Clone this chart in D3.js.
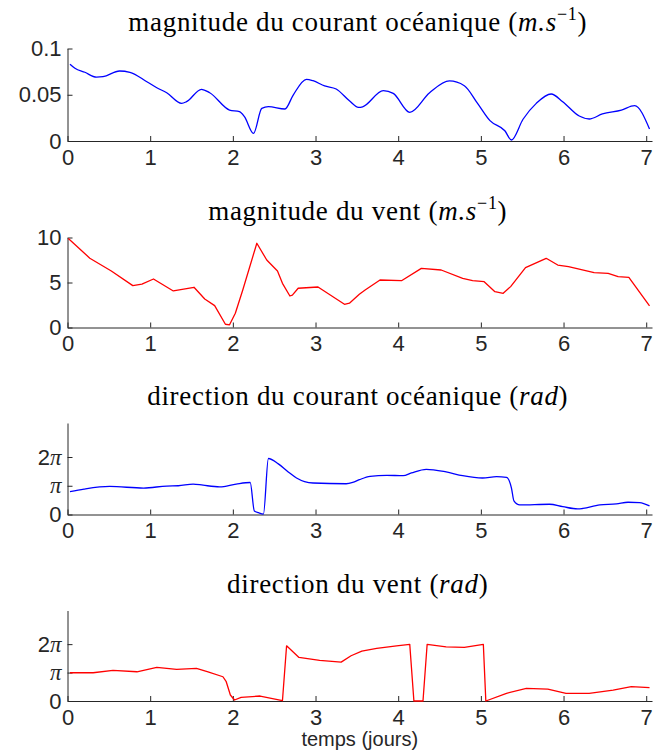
<!DOCTYPE html>
<html>
<head>
<meta charset="utf-8">
<script src="https://cdn.jsdelivr.net/npm/d3@7"></script>
<style>
  html, body { margin: 0; padding: 0; background: #fff; }
  svg { display: block; }
</style>
</head>
<body>
<script>
// ---------- DATA ----------
const xTicks = [0, 1, 2, 3, 4, 5, 6, 7];
const xLabel = "temps (jours)";

// Panel 1: magnitude du courant océanique (m/s)
const curMagT = [0.03,0.09,0.21,0.35,0.43,0.63,0.755,0.96,1.08,1.2,1.38,1.44,1.62,1.72,1.96,2.08,2.14,2.25,2.35,2.43,2.63,2.73,2.89,2.97,3.11,3.25,3.41,3.52,3.57,3.82,3.94,4.14,4.38,4.62,4.8,4.96,5.11,5.29,5.37,5.51,5.67,5.85,5.99,6.19,6.31,6.47,6.7,6.86,7.04];
const curMagV = [0.083,0.0786,0.0743,0.069,0.0695,0.0757,0.0743,0.0641,0.0576,0.0522,0.0407,0.0425,0.0559,0.0522,0.0335,0.0317,0.0263,0.0083,0.0353,0.0371,0.0346,0.0497,0.0667,0.0652,0.0595,0.0562,0.0435,0.0364,0.037,0.0544,0.0515,0.031,0.0522,0.0649,0.0598,0.0407,0.022,0.0111,0.0011,0.0235,0.0407,0.0508,0.0425,0.027,0.0238,0.0292,0.0335,0.0382,0.013];
const curMagTicks = [0, 0.05, 0.1];
const curMagTickLabels = ["0", "0.05", "0.1"];

// Panel 2: magnitude du vent (m/s)
const windMagT = [0.01,0.27,0.53,0.79,0.9,1.04,1.28,1.53,1.66,1.78,1.91,1.96,2.03,2.12,2.29,2.41,2.54,2.6,2.69,2.72,2.79,3.03,3.35,3.41,3.53,3.6,3.78,4.04,4.28,4.52,4.78,4.9,5.04,5.17,5.27,5.36,5.54,5.79,5.93,6.06,6.37,6.54,6.66,6.79,7.04];
const windMagV = [9.9,7.7,6.28,4.65,4.83,5.39,4.06,4.47,3.17,2.43,0.36,0.3,1.58,4.17,9.36,7.5,6.28,4.91,3.5,3.6,4.36,4.5,2.58,2.7,3.7,4.17,5.28,5.2,6.57,6.39,5.46,5.2,5.09,3.98,3.8,4.54,6.65,7.69,6.94,6.76,6.09,6.02,5.65,5.57,2.39];
const windMagTicks = [0, 5, 10];
const windMagTickLabels = ["0", "5", "10"];

// Panel 3: direction du courant océanique (rad)
const curDirT = [0.03,0.2,0.51,0.92,1.2,1.34,1.52,1.64,1.84,2.04,2.21,2.26,2.31,2.37,2.43,2.55,2.67,2.77,2.97,3.37,3.45,3.53,3.66,3.86,4.06,4.16,4.34,4.58,4.78,5.02,5.19,5.31,5.37,5.4,5.47,5.83,5.99,6.17,6.44,6.64,6.78,6.92,7.04];
const curDirV = [2.51,2.78,3.07,2.89,3.11,3.14,3.33,3.2,3.03,3.33,3.5,0.39,0.2,0.05,6.12,5.53,4.65,3.99,3.44,3.36,3.5,3.8,4.17,4.28,4.24,4.54,4.94,4.65,4.24,3.99,4.13,4.06,2.89,1.49,1.05,1.12,0.86,0.61,1.05,1.16,1.34,1.3,0.94];

// Panel 4: direction du vent (rad)
const windDirT = [0.03,0.31,0.55,0.84,1.08,1.32,1.56,1.7,1.88,1.92,1.97,2.02,2.1,2.33,2.6,2.65,2.8,3.05,3.31,3.43,3.56,3.74,3.98,4.14,4.19,4.3,4.35,4.58,4.8,5.03,5.06,5.31,5.55,5.81,6.03,6.31,6.6,6.82,7.04];
const windDirV = [3.12,3.12,3.38,3.23,3.71,3.49,3.6,3.23,2.68,2.13,0.66,0.11,0.4,0.55,0.03,6.1,4.81,4.48,4.3,5.0,5.51,5.81,6.1,6.25,0,0,6.25,5.99,5.92,6.25,0,0.85,1.4,1.32,0.85,0.85,1.21,1.58,1.47];

const angleTicks = [0, Math.PI, 2 * Math.PI];
const angleTickLabels = [["0", ""], ["", "π"], ["2", "π"]];

const titles = [
  ["magnitude du courant océanique (", "m.s", "−1", ")"],
  ["magnitude du vent (", "m.s", "−1", ")"],
  ["direction du courant océanique (", "rad", "", ")"],
  ["direction du vent (", "rad", "", ")"]
];

// ---------- LAYOUT ----------
const W = 656, H = 756;
const xLeft = 67.5, xRight = 652;
const axisColor = "#262626";
const tickFont = "'Liberation Sans', Arial, Helvetica, sans-serif";
const titleFont = "'Liberation Serif', 'Times New Roman', serif";

const panels = [
  { t: curMagT, v: curMagV, yDomain: [0, 0.1], range: [141, 48.5], ticks: curMagTicks, labels: curMagTickLabels, color: "#0000ff", curve: d3.curveMonotoneX, title: titles[0], pi: false },
  { t: windMagT, v: windMagV, yDomain: [0, 10], range: [327.5, 237.5], ticks: windMagTicks, labels: windMagTickLabels, color: "#ff0000", curve: d3.curveLinear, title: titles[1], pi: false },
  { t: curDirT, v: curDirV, yDomain: [0, 10], range: [514.5, 423], ticks: angleTicks, labels: angleTickLabels, color: "#0000ff", curve: d3.curveMonotoneX, title: titles[2], pi: true },
  { t: windDirT, v: windDirV, yDomain: [0, 10], range: [701, 610.5], ticks: angleTicks, labels: angleTickLabels, color: "#ff0000", curve: d3.curveLinear, title: titles[3], pi: true }
];

const svg = d3.select("body").append("svg").attr("width", W).attr("height", H);
const x = d3.scaleLinear().domain([0, 7.07]).range([xLeft, xRight]);

panels.forEach((p, i) => {
  const y = d3.scaleLinear().domain(p.yDomain).range(p.range);
  const g = svg.append("g");

  // x axis
  const xa = g.append("g").attr("transform", `translate(0,${p.range[0]})`)
    .call(d3.axisBottom(x).tickValues(xTicks).tickFormat(d3.format("d")).tickSize(-5).tickSizeOuter(0).tickPadding(8));
  // y axis
  const ya = g.append("g").attr("transform", `translate(${xLeft},0)`)
    .call(d3.axisLeft(y).tickValues(p.ticks).tickSize(-5).tickSizeOuter(0).tickPadding(6)
      .tickFormat((d, k) => p.pi ? "" : p.labels[k]));

  [xa, ya].forEach(a => {
    a.select(".domain").attr("stroke", axisColor).attr("stroke-width", 1);
    a.selectAll(".tick line").attr("stroke", axisColor).attr("stroke-width", 1);
    a.selectAll(".tick text").attr("fill", "#262626").attr("font-family", tickFont).attr("font-size", 22);
  });
  xa.selectAll(".tick text").attr("dy", "0.71em");

  if (p.pi) {
    ya.selectAll(".tick text").each(function (d, k) {
      const t = d3.select(this);
      const [num, sym] = p.labels[k];
      if (num) t.append("tspan").text(num);
      if (sym) t.append("tspan").attr("font-family", titleFont).attr("font-style", "italic").attr("font-size", 23).text(sym);
    });
  }

  // line
  const data = p.t.map((tt, k) => [tt, p.v[k]]);
  g.append("path").datum(data)
    .attr("fill", "none").attr("stroke", p.color).attr("stroke-width", 1.3)
    .attr("stroke-linejoin", "round")
    .attr("d", d3.line().x(d => x(d[0])).y(d => y(d[1])).curve(p.curve));

  // title
  const tt = g.append("text")
    .attr("x", (xLeft + xRight) / 2 - 2).attr("y", p.range[1] - 18)
    .attr("text-anchor", "middle").attr("font-family", titleFont).attr("font-size", 27)
    .attr("letter-spacing", "0.7px").attr("fill", "#000");
  tt.append("tspan").text(p.title[0]);
  tt.append("tspan").attr("font-style", "italic").text(p.title[1]);
  if (p.title[2]) tt.append("tspan").attr("font-size", 18).attr("dy", -11).text(p.title[2]);
  tt.append("tspan").attr("dy", p.title[2] ? 11 : 0).text(p.title[3]);
});

svg.append("text")
  .attr("x", (xLeft + xRight) / 2).attr("y", 746)
  .attr("text-anchor", "middle").attr("font-family", tickFont).attr("font-size", 20).attr("fill", "#262626")
  .text(xLabel);
</script>
</body>
</html>
